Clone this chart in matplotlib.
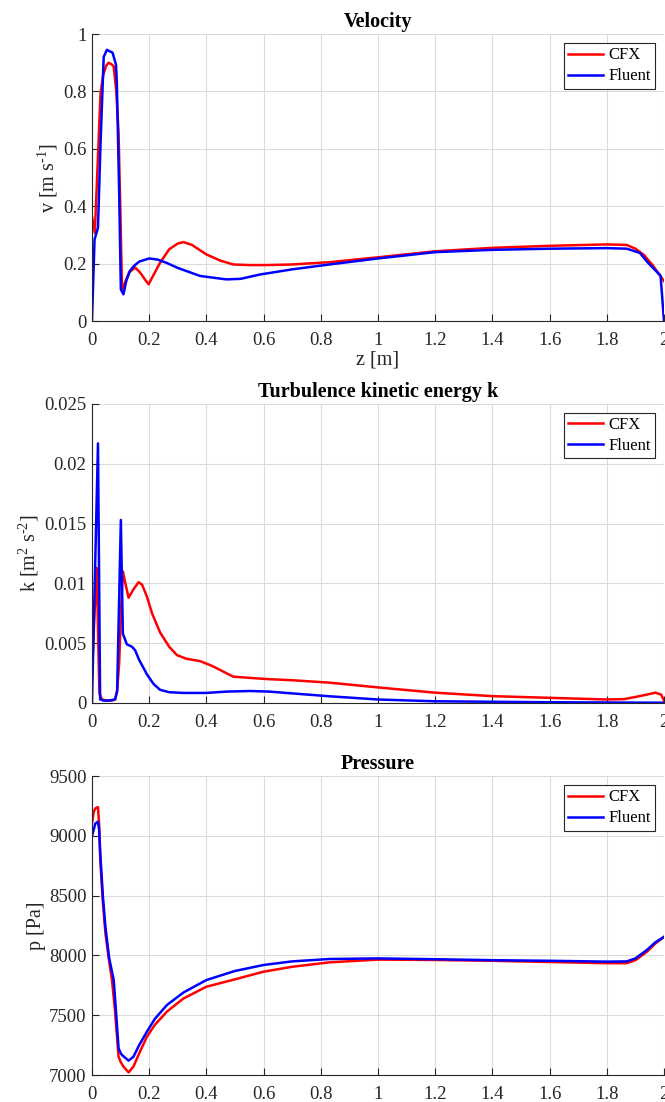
import numpy as np
import matplotlib
matplotlib.use("Agg")
import matplotlib.pyplot as plt
from matplotlib.ticker import FuncFormatter

plt.rcParams['font.family'] = ['Liberation Serif', 'DejaVu Serif']
plt.rcParams['mathtext.fontset'] = 'custom'
plt.rcParams['mathtext.rm'] = 'Liberation Serif'
plt.rcParams['mathtext.it'] = 'Liberation Serif:italic'

# ---- Velocity ----
z_v_cfx = [0, 0.01, 0.02, 0.03, 0.04, 0.05, 0.058, 0.068, 0.076, 0.085, 0.093, 0.1, 0.105,
           0.113, 0.13, 0.151, 0.169, 0.185, 0.198, 0.215, 0.238, 0.27, 0.3, 0.32, 0.35, 0.4,
           0.45, 0.494, 0.55, 0.61, 0.7, 0.83, 1.0, 1.2, 1.4, 1.6, 1.8, 1.87, 1.9, 1.93, 1.96, 2.0]
v_cfx = [0.365, 0.307, 0.55, 0.795, 0.86, 0.89, 0.9, 0.895, 0.887, 0.8, 0.655, 0.35, 0.11,
         0.128, 0.17, 0.186, 0.168, 0.145, 0.128, 0.16, 0.203, 0.25, 0.27, 0.275, 0.265, 0.232,
         0.21, 0.197, 0.195, 0.195, 0.197, 0.205, 0.222, 0.243, 0.255, 0.262, 0.267, 0.265, 0.252,
         0.23, 0.195, 0.139]

z_v_flu = [0, 0.009, 0.021, 0.03, 0.041, 0.052, 0.062, 0.072, 0.084, 0.087, 0.095, 0.101, 0.11,
           0.12, 0.133, 0.145, 0.165, 0.2, 0.23, 0.26, 0.3, 0.378, 0.47, 0.52, 0.587, 0.7, 0.83,
           1.0, 1.2, 1.4, 1.6, 1.8, 1.87, 1.916, 1.945, 1.988, 2.0]
v_flu = [0.0, 0.284, 0.325, 0.62, 0.92, 0.945, 0.94, 0.935, 0.893, 0.83, 0.45, 0.11, 0.093,
         0.14, 0.175, 0.19, 0.207, 0.218, 0.214, 0.203, 0.185, 0.157, 0.145, 0.147, 0.162, 0.18,
         0.197, 0.218, 0.24, 0.248, 0.252, 0.254, 0.252, 0.237, 0.202, 0.158, 0.0]

# ---- Turbulence kinetic energy ----
z_k_cfx = [0, 0.008, 0.017, 0.022, 0.026, 0.035, 0.05, 0.07, 0.081, 0.088, 0.095, 0.102, 0.108,
           0.115, 0.128, 0.145, 0.163, 0.175, 0.192, 0.21, 0.238, 0.27, 0.297, 0.33, 0.378, 0.42,
           0.494, 0.55, 0.61, 0.7, 0.83, 1.0, 1.2, 1.4, 1.6, 1.8, 1.86, 1.9, 1.94, 1.97, 1.99, 2.0]
k_cfx = [0.0024, 0.007, 0.0113, 0.005, 0.0008, 0.0003, 0.0002, 0.0002, 0.0003, 0.001, 0.0033,
         0.008, 0.011, 0.0102, 0.0088, 0.0095, 0.0101, 0.0099, 0.0089, 0.0075, 0.0059, 0.0047,
         0.004, 0.0037, 0.0035, 0.0031, 0.0022, 0.0021, 0.002, 0.0019, 0.0017, 0.0013, 0.00086,
         0.00057, 0.00043, 0.00029, 0.00032, 0.0005, 0.0007, 0.00086, 0.0007, 0.0002]

z_k_flu = [0, 0.021, 0.0285, 0.04, 0.06, 0.081, 0.088, 0.101, 0.108, 0.122, 0.14, 0.151, 0.165,
           0.192, 0.215, 0.238, 0.27, 0.32, 0.4, 0.47, 0.552, 0.62, 0.7, 0.83, 1.0, 1.2, 1.4,
           1.6, 1.8, 2.0]
k_flu = [0.0, 0.0217, 0.0003, 0.0002, 0.0002, 0.0003, 0.001, 0.0153, 0.0058, 0.0049, 0.0047,
         0.0044, 0.0036, 0.0024, 0.0016, 0.0011, 0.0009, 0.00084, 0.00084, 0.00095, 0.001,
         0.00095, 0.0008, 0.00056, 0.00029, 0.00014, 0.0001, 0.00006, 0.00004, 0.00002]

# ---- Pressure ----
z_p_cfx = [0, 0.006, 0.012, 0.021, 0.025, 0.029, 0.038, 0.047, 0.06, 0.07, 0.08, 0.093, 0.1,
           0.11, 0.128, 0.145, 0.165, 0.192, 0.22, 0.262, 0.32, 0.4, 0.5, 0.6, 0.7, 0.83, 1.0,
           1.2, 1.4, 1.6, 1.8, 1.87, 1.9, 1.94, 1.97, 2.0]
p_cfx = [9104, 9200, 9230, 9240, 9100, 8798, 8450, 8185, 7950, 7794, 7550, 7153, 7110, 7070,
         7022, 7070, 7180, 7320, 7420, 7530, 7640, 7738, 7800, 7864, 7905, 7942, 7965, 7962,
         7955, 7945, 7935, 7935, 7960, 8030, 8100, 8155]

z_p_flu = [0, 0.012, 0.021, 0.025, 0.029, 0.038, 0.047, 0.06, 0.076, 0.085, 0.093, 0.1, 0.105,
           0.128, 0.145, 0.165, 0.192, 0.22, 0.262, 0.32, 0.4, 0.5, 0.6, 0.7, 0.83, 1.0, 1.2,
           1.4, 1.6, 1.8, 1.87, 1.9, 1.94, 1.97, 2.0]
p_flu = [8998, 9104, 9118, 9050, 8853, 8500, 8240, 7980, 7794, 7500, 7223, 7185, 7167, 7120,
         7153, 7250, 7362, 7470, 7585, 7690, 7794, 7870, 7920, 7950, 7970, 7975, 7968, 7960,
         7955, 7948, 7950, 7975, 8045, 8110, 8155]

z_ticks = np.arange(0, 2.01, 0.2)

fig = plt.figure(figsize=(6.65, 11.02), dpi=100)
ax_v = fig.add_axes([0.1383, 0.7087, 0.8602, 0.2604])
ax_k = fig.add_axes([0.1383, 0.3621, 0.8602, 0.2713])
ax_p = fig.add_axes([0.1383, 0.0245, 0.8602, 0.2713])

def estilo(ax, titulo, ylab, ylim, yticks):
    ax.set_xlim(0, 2)
    ax.set_ylim(*ylim)
    ax.set_xticks(z_ticks)
    ax.set_yticks(yticks)
    fmt = FuncFormatter(lambda x, p: '%g' % round(x, 6))
    ax.xaxis.set_major_formatter(fmt)
    ax.yaxis.set_major_formatter(fmt)
    ax.grid(True, color='#dcdcdc', lw=0.8)
    ax.set_axisbelow(True)
    for s in ['top', 'right']:
        ax.spines[s].set_visible(False)
    for s in ['left', 'bottom']:
        ax.spines[s].set_color('#262626')
        ax.spines[s].set_linewidth(0.8)
    ax.tick_params(direction='in', length=5, width=0.8, colors='#262626',
                   labelsize=13.5, labelcolor='#262626', pad=4)
    ax.tick_params(axis='x', pad=8)
    ax.set_title(titulo, fontsize=14.5, fontweight='bold', pad=5)
    ax.set_ylabel(ylab, fontsize=14.5, color='#262626', labelpad=2)
    leg = ax.legend(loc='upper right', fontsize=12, fancybox=False, framealpha=1,
                    edgecolor='#262626', handlelength=2.1, borderpad=0.25,
                    labelspacing=0.3, handletextpad=0.3, borderaxespad=0.55)
    leg.get_frame().set_linewidth(0.8)

ax_v.plot(z_v_cfx, v_cfx, color='#ff0000', lw=1.8, label='CFX')
ax_v.plot(z_v_flu, v_flu, color='#0000ff', lw=1.8, label='Fluent')
estilo(ax_v, 'Velocity', r'v [m s$^{\text{-1}}$]', (0, 1), np.arange(0, 1.01, 0.2))
ax_v.set_xlabel('z [m]', fontsize=14.5, color='#262626', labelpad=1)

ax_k.plot(z_k_cfx, k_cfx, color='#ff0000', lw=1.8, label='CFX')
ax_k.plot(z_k_flu, k_flu, color='#0000ff', lw=1.8, label='Fluent')
estilo(ax_k, 'Turbulence kinetic energy k',
       r'k [m$^{\text{2}}$ s$^{\text{-2}}$]', (0, 0.025),
       np.arange(0, 0.02501, 0.005))

ax_p.plot(z_p_cfx, p_cfx, color='#ff0000', lw=1.8, label='CFX')
ax_p.plot(z_p_flu, p_flu, color='#0000ff', lw=1.8, label='Fluent')
estilo(ax_p, 'Pressure', 'p [Pa]', (7000, 9500), np.arange(7000, 9501, 500))

fig.savefig('out.png', dpi=100)
